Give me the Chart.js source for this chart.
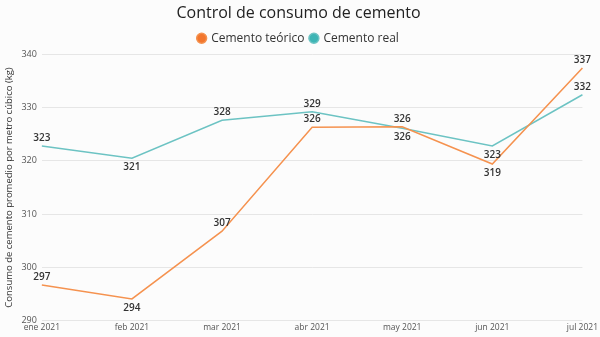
<!DOCTYPE html>
<html>
<head>
<meta charset="utf-8">
<script src="https://cdn.jsdelivr.net/npm/chart.js@4"></script>
<style>
  html, body { margin: 0; padding: 0; background: #ffffff; }
  .box { width: 600px; height: 337px; position: relative; background: #fcfcfc; }
</style>
</head>
<body>
<div class="box">
  <canvas id="myChart"></canvas>
</div>
<script>
const months = ['ene 2021', 'feb 2021', 'mar 2021', 'abr 2021', 'may 2021', 'jun 2021', 'jul 2021'];
const cementoTeorico = [296.7, 294.1, 306.8, 326.3, 326.4, 319.4, 337.4];
const cementoReal = [322.8, 320.5, 327.6, 329.2, 326.1, 322.8, 332.4];
const yTicks = [290, 300, 310, 320, 330, 340];

// etiquetas arriba/abajo de cada punto
const labelSide = {
    0: ['up', 'down', 'up', 'up', 'up', 'down', 'up'],
    1: ['up', 'down', 'up', 'up', 'down', 'down', 'up']
};

const valueLabels = {
    id: 'valueLabels',
    afterDatasetsDraw(chart) {
        const ctx = chart.ctx;
        ctx.save();
        ctx.font = '600 10px "Open Sans", sans-serif';
        ctx.fillStyle = '#333333';
        ctx.textAlign = 'center';
        ctx.textBaseline = 'middle';
        chart.data.datasets.forEach((ds, i) => {
            const meta = chart.getDatasetMeta(i);
            meta.data.forEach((pt, j) => {
                const dy = labelSide[i][j] === 'up' ? -8 : 9;
                ctx.fillText(Math.round(ds.data[j]), pt.x, pt.y + dy);
            });
        });
        ctx.restore();
    }
};

new Chart(document.getElementById('myChart'), {
    type: 'line',
    data: {
        labels: months,
        datasets: [{
            label: 'Cemento teórico',
            data: cementoTeorico,
            borderColor: '#F5924F',
            backgroundColor: '#F2762E',
            borderWidth: 1.5,
            pointRadius: 0,
            tension: 0
        }, {
            label: 'Cemento real',
            data: cementoReal,
            borderColor: '#6CC3C3',
            backgroundColor: '#3DB5B5',
            borderWidth: 1.5,
            pointRadius: 0,
            tension: 0
        }]
    },
    options: {
        responsive: true,
        maintainAspectRatio: false,
        animation: false,
        layout: { padding: { left: 3, right: 6, top: 2, bottom: 2 } },
        plugins: {
            title: {
                display: true,
                text: 'Control de consumo de cemento',
                color: '#222222',
                font: { family: '"Open Sans", sans-serif', size: 16, weight: 'normal' },
                padding: { top: 2, bottom: 3 }
            },
            legend: {
                display: true,
                labels: {
                    usePointStyle: true,
                    pointStyle: 'circle',
                    boxWidth: 7,
                    boxHeight: 7,
                    padding: 6,
                    color: '#333333',
                    font: { family: '"Open Sans", sans-serif', size: 12 }
                }
            },
            tooltip: { enabled: false }
        },
        scales: {
            x: {
                offset: false,
                grid: { display: false, drawTicks: false },
                border: { display: false },
                ticks: {
                    color: '#555555',
                    maxRotation: 0,
                    padding: 2,
                    font: { family: '"Open Sans", sans-serif', size: 8.5 }
                }
            },
            y: {
                min: 290,
                max: 340,
                afterBuildTicks(axis) {
                    axis.ticks = yTicks.map(v => ({ value: v }));
                },
                grid: { color: '#e6e6e6', drawTicks: false },
                border: { display: false },
                ticks: {
                    color: '#555555',
                    padding: 5,
                    font: { family: '"Open Sans", sans-serif', size: 9 }
                },
                title: {
                    display: true,
                    text: 'Consumo de cemento promedio por metro cúbico (kg)',
                    color: '#333333',
                    padding: 1,
                    font: { family: '"Open Sans", sans-serif', size: 9.5 }
                }
            }
        }
    },
    plugins: [valueLabels]
});
</script>
</body>
</html>
